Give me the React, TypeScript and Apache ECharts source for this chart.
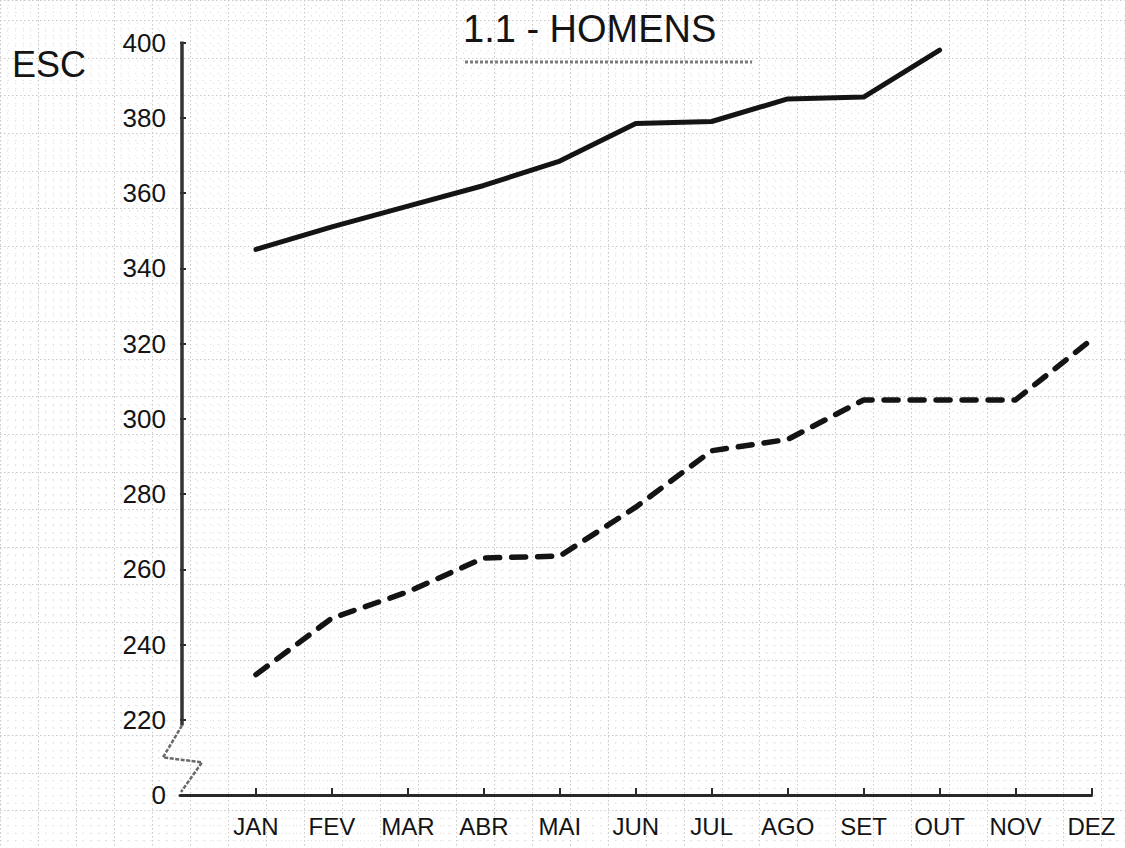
import React, { useEffect, useRef } from "react";
import * as echarts from "echarts";

// ---- data ----
const months = ["JAN", "FEV", "MAR", "ABR", "MAI", "JUN", "JUL", "AGO", "SET", "OUT", "NOV", "DEZ"];
const solidValues = [345, 351, 356.5, 362, 368.5, 378.5, 379, 385, 385.5, 398]; // JAN..OUT
const dashedValues = [232, 247, 254, 263, 263.5, 276.5, 291.5, 294.5, 305, 305, 305, 321]; // JAN..DEZ
const yTickValues = [220, 240, 260, 280, 300, 320, 340, 360, 380, 400];
const yLabelValues = [200, 220, 240, 260, 280, 300, 320, 340, 360, 380, 400];
const axisBaseValue = 200; // drawn as "0" below the axis break
const titleText = "1.1 - HOMENS";
const unitText = "ESC";

const FONT = "'Liberation Sans', 'DejaVu Sans', sans-serif";
const INK = "#141414";

export default function App() {
  const ref = useRef<HTMLDivElement>(null);

  useEffect(() => {
    if (!ref.current) return;
    const chart = echarts.init(ref.current, null, { renderer: "svg" });
    const monthIdx = months.map((_, i) => i);

    const paperMajor = { color: "#c9c9c9", width: 1, type: [1.5, 2.5] };
    const paperMinor = { color: "#e4e4e4", width: 1, type: [1.5, 6] };

    const option: any = {
      animation: false,
      backgroundColor: "#ffffff",
      grid: [
        { left: 180, right: 33.5, top: 42.5, bottom: 53, containLabel: false },
        { left: 0, right: 0, top: 0, bottom: 0, containLabel: false },
      ],
      xAxis: [
        {
          type: "value",
          gridIndex: 0,
          min: -1,
          max: 11,
          interval: 1,
          splitLine: { show: false },
          axisLine: { show: true, onZero: false, lineStyle: { color: "#2a2a2a", width: 3 } },
          axisTick: {
            show: true,
            inside: true,
            length: 7,
            customValues: monthIdx,
            lineStyle: { color: "#2a2a2a", width: 2 },
          },
          axisLabel: {
            show: true,
            customValues: monthIdx,
            margin: 19,
            fontSize: 24,
            fontFamily: FONT,
            color: INK,
            formatter: (v: number) => months[Math.round(v)] ?? "",
          },
        },
        {
          type: "value",
          gridIndex: 1,
          min: -256.5 / 37.98,
          max: -256.5 / 37.98 + 1125 / 37.98,
          interval: 1,
          axisLine: { show: false, onZero: false },
          axisTick: { show: false },
          axisLabel: { show: false },
          minorTick: { show: false, splitNumber: 5 },
          splitLine: { show: true, lineStyle: paperMajor },
          minorSplitLine: { show: true, lineStyle: paperMinor },
        },
      ],
      yAxis: [
        {
          type: "value",
          gridIndex: 0,
          min: 200,
          max: 400,
          interval: 20,
          splitLine: { show: false },
          axisLine: { show: false, onZero: false },
          axisTick: {
            show: true,
            inside: true,
            length: 6,
            customValues: yTickValues,
            lineStyle: { color: "#2a2a2a", width: 2 },
          },
          axisLabel: {
            show: true,
            customValues: yLabelValues,
            margin: 14,
            fontSize: 26,
            fontFamily: FONT,
            color: INK,
            formatter: (v: number) => (v === axisBaseValue ? "0" : String(v)),
          },
        },
        {
          type: "value",
          gridIndex: 1,
          min: 200 - 53 / 3.7625,
          max: 400 + 42.5 / 3.7625,
          interval: 10,
          axisLine: { show: false, onZero: false },
          axisTick: { show: false },
          axisLabel: { show: false },
          minorTick: { show: false, splitNumber: 5 },
          splitLine: { show: true, lineStyle: paperMajor },
          minorSplitLine: { show: true, lineStyle: paperMinor },
        },
      ],
      series: [
        {
          name: "solid",
          type: "line",
          xAxisIndex: 0,
          yAxisIndex: 0,
          symbol: "none",
          data: solidValues.map((v, i) => [i, v]),
          lineStyle: { color: INK, width: 5, cap: "round", join: "round" },
          z: 5,
        },
        {
          name: "dashed",
          type: "line",
          xAxisIndex: 0,
          yAxisIndex: 0,
          symbol: "none",
          data: dashedValues.map((v, i) => [i, v]),
          lineStyle: { color: INK, width: 5.5, type: [14, 12], cap: "round", join: "round" },
          z: 5,
        },
      ],
    };
    chart.setOption(option);

    const top = chart.convertToPixel({ gridIndex: 0 }, [-1, 400]) as number[];
    const brk = chart.convertToPixel({ gridIndex: 0 }, [-1, 218.5]) as number[];
    const base = chart.convertToPixel({ gridIndex: 0 }, [-1, 200]) as number[];
    const x0 = top[0] + 2;

    chart.setOption({
      graphic: [
        {
          type: "line",
          shape: { x1: x0, y1: top[1] - 1, x2: x0, y2: brk[1] },
          style: { stroke: "#333", lineWidth: 3.5 },
          z: 10,
        },
        {
          type: "polyline",
          shape: {
            points: [
              [x0, brk[1]],
              [x0 - 19, brk[1] + 32],
              [x0 + 20, brk[1] + 37],
              [x0 - 1, base[1] - 3],
            ],
          },
          style: { stroke: "#6a6a6a", lineWidth: 2.5, fill: null, lineDash: [4, 1.5] },
          z: 10,
        },
        {
          type: "text",
          left: 463,
          top: 10,
          style: { text: titleText, fontSize: 38, fontFamily: FONT, fill: INK },
          z: 10,
        },
        {
          type: "line",
          shape: { x1: 465, y1: 62, x2: 752, y2: 62 },
          style: { stroke: "#7a7a7a", lineWidth: 3, lineDash: [3, 2] },
          z: 10,
        },
        {
          type: "text",
          left: 12,
          top: 46,
          style: { text: unitText, fontSize: 36, fontFamily: FONT, fill: INK },
          z: 10,
        },
      ],
    });

    return () => chart.dispose();
  }, []);

  return (
    <div
      ref={ref}
      style={{ position: "fixed", left: 0, top: 0, width: 1125, height: 848, background: "#fff" }}
    />
  );
}
